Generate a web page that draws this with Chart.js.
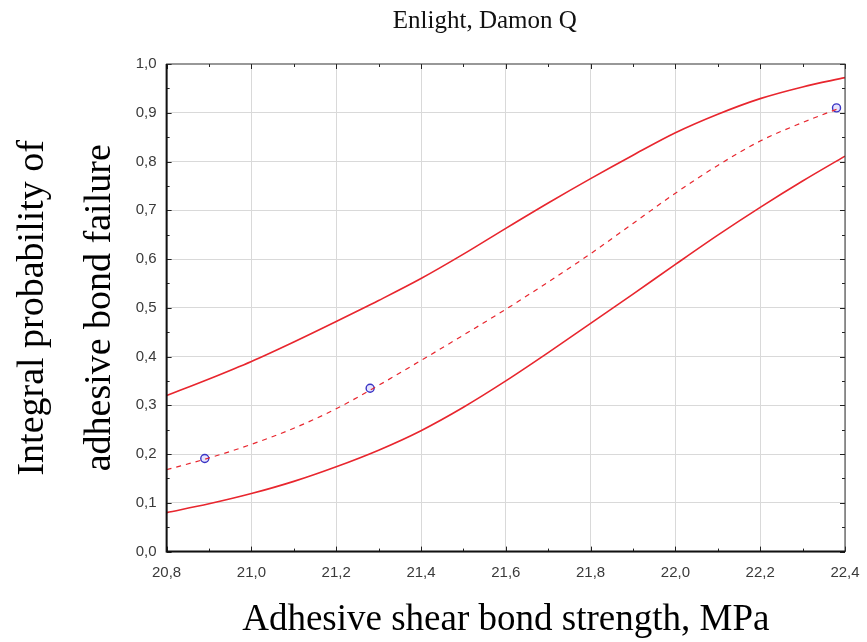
<!DOCTYPE html>
<html>
<head>
<meta charset="utf-8">
<script src="https://cdn.jsdelivr.net/npm/chart.js@4.4.1/dist/chart.umd.min.js"></script>
<style>
  html, body { margin: 0; padding: 0; background: #fff; }
  #wrap { width: 867px; height: 642px; }
</style>
</head>
<body>
<div id="wrap"><canvas id="chart"></canvas></div>
<script>
// values
const strength = [20.8, 20.9, 21.0, 21.1, 21.2, 21.3, 21.4, 21.5, 21.6, 21.7, 21.8, 21.9, 22.0, 22.1, 22.2, 22.3, 22.4]
const upperBound = [0.320, 0.354, 0.390, 0.430, 0.472, 0.515, 0.560, 0.610, 0.663, 0.715, 0.765, 0.813, 0.859, 0.897, 0.929, 0.953, 0.972]
const lowerBound = [0.080, 0.098, 0.119, 0.144, 0.174, 0.208, 0.248, 0.296, 0.350, 0.408, 0.468, 0.528, 0.589, 0.649, 0.706, 0.760, 0.811]
const fitStrength = [20.8, 20.9, 21.0, 21.1, 21.2, 21.3, 21.4, 21.5, 21.6, 21.7, 21.8, 21.9, 22.0, 22.1, 22.2, 22.3, 22.38]
const fitCurve = [0.168, 0.192, 0.220, 0.253, 0.293, 0.341, 0.392, 0.444, 0.497, 0.553, 0.611, 0.673, 0.735, 0.792, 0.842, 0.880, 0.907]
const observedX = [20.89, 21.28, 22.38]
const observedY = [0.191, 0.335, 0.910]

const xTicks = [20.8, 21.0, 21.2, 21.4, 21.6, 21.8, 22.0, 22.2, 22.4]
const yTicks = [0.0, 0.1, 0.2, 0.3, 0.4, 0.5, 0.6, 0.7, 0.8, 0.9, 1.0]

const chartTitle = 'Enlight, Damon Q'
const xTitle = 'Adhesive shear bond strength, MPa'
const yTitle = ['Integral probability of', 'adhesive bond failure']

const RED = '#e8262e'
const GRID = '#d9d9d9'

const pairs = (xs, ys) => xs.map((x, i) => ({ x, y: ys[i] }))
const comma = (v) => v.toFixed(1).replace('.', ',')
const isMajor = (v, step) => Math.abs(v / step - Math.round(v / step)) < 1e-6
const withMinor = (major) => {
  const out = []
  for (let i = 0; i < major.length - 1; i++) out.push(major[i], (major[i] + major[i + 1]) / 2)
  out.push(major[major.length - 1])
  return out.map((value) => ({ value }))
}

// frame on all four sides, inward tick marks, and the small title above the plot
const framePlugin = {
  id: 'frame',
  afterDraw(chart) {
    const { ctx, chartArea: a, scales } = chart
    ctx.save()
    ctx.strokeStyle = '#222'
    ctx.lineWidth = 1
    scales.x.ticks.forEach((t) => {
      const px = Math.round(scales.x.getPixelForValue(t.value)) + 0.5
      const len = isMajor(t.value, 0.2) ? 5 : 3
      ctx.beginPath()
      ctx.moveTo(px, a.bottom); ctx.lineTo(px, a.bottom - len)
      ctx.moveTo(px, a.top); ctx.lineTo(px, a.top + len)
      ctx.stroke()
    })
    scales.y.ticks.forEach((t) => {
      const py = Math.round(scales.y.getPixelForValue(t.value)) + 0.5
      const len = isMajor(t.value, 0.1) ? 5 : 3
      ctx.beginPath()
      ctx.moveTo(a.left, py); ctx.lineTo(a.left + len, py)
      ctx.moveTo(a.right, py); ctx.lineTo(a.right - len, py)
      ctx.stroke()
    })
    ctx.strokeStyle = '#333'
    ctx.strokeRect(a.left, a.top, a.right - a.left, a.bottom - a.top)
    ctx.strokeStyle = '#111'
    ctx.lineWidth = 2
    ctx.beginPath()
    ctx.moveTo(a.left, a.top); ctx.lineTo(a.left, a.bottom); ctx.lineTo(a.right, a.bottom)
    ctx.stroke()

    ctx.fillStyle = '#111'
    ctx.font = '25px "Liberation Serif"'
    ctx.textAlign = 'center'
    ctx.textBaseline = 'alphabetic'
    ctx.fillText(chartTitle, (a.left + a.right) / 2 - 21, 28)
    ctx.restore()
  },
}

const ctx = document.getElementById('chart').getContext('2d')
new Chart(ctx, {
  type: 'line',
  data: {
    datasets: [
      {
        label: 'upper',
        data: pairs(strength, upperBound),
        borderColor: RED,
        borderWidth: 1.6,
        pointRadius: 0,
        cubicInterpolationMode: 'monotone',
        fill: false,
      },
      {
        label: 'fit',
        data: pairs(fitStrength, fitCurve),
        borderColor: RED,
        borderWidth: 1.2,
        borderDash: [5, 5],
        pointRadius: 0,
        cubicInterpolationMode: 'monotone',
        fill: false,
      },
      {
        label: 'lower',
        data: pairs(strength, lowerBound),
        borderColor: RED,
        borderWidth: 1.6,
        pointRadius: 0,
        cubicInterpolationMode: 'monotone',
        fill: false,
      },
      {
        type: 'scatter',
        label: 'observed',
        data: pairs(observedX, observedY),
        borderColor: '#3a34c4',
        backgroundColor: '#e6e4ff',
        borderWidth: 1.4,
        pointRadius: 4,
      },
    ],
  },
  options: {
    responsive: true,
    maintainAspectRatio: false,
    animation: false,
    layout: { padding: { top: 64, right: 22, bottom: 0, left: 0 } },
    scales: {
      x: {
        type: 'linear',
        min: 20.8,
        max: 22.4,
        border: { display: false },
        afterBuildTicks(scale) {
          scale.ticks = withMinor(xTicks)
        },
        afterFit(scale) {
          // let the last label hang into the right margin instead of shrinking the plot
          scale.paddingRight = 0
        },
        ticks: {
          color: '#3a3a3a',
          font: { family: 'Liberation Sans', size: 15 },
          padding: 12,
          maxRotation: 0,
          autoSkip: false,
          callback: (v) => (isMajor(v, 0.2) ? comma(v) : ''),
        },
        grid: {
          drawTicks: false,
          color: (c) => (c.tick && isMajor(c.tick.value, 0.2) ? GRID : 'rgba(0,0,0,0)'),
        },
        title: {
          display: true,
          text: xTitle,
          color: '#000',
          font: { family: 'Liberation Serif', size: 37 },
          padding: { top: 4, bottom: 0 },
        },
      },
      y: {
        type: 'linear',
        min: 0,
        max: 1,
        border: { display: false },
        afterBuildTicks(scale) {
          scale.ticks = withMinor(yTicks)
        },
        ticks: {
          color: '#3a3a3a',
          font: { family: 'Liberation Sans', size: 15 },
          padding: 10,
          autoSkip: false,
          callback: (v) => (isMajor(v, 0.1) ? comma(v) : ''),
        },
        grid: {
          drawTicks: false,
          color: (c) => (c.tick && isMajor(c.tick.value, 0.1) && c.tick.value > 0 && c.tick.value < 1 ? GRID : 'rgba(0,0,0,0)'),
        },
        title: {
          display: true,
          text: yTitle,
          color: '#000',
          font: { family: 'Liberation Serif', size: 38, lineHeight: 1.76 },
          padding: { top: 0, bottom: -8 },
        },
      },
    },
    plugins: {
      legend: { display: false },
      tooltip: { enabled: false },
      title: { display: false },
    },
  },
  plugins: [framePlugin],
})
</script>
</body>
</html>
